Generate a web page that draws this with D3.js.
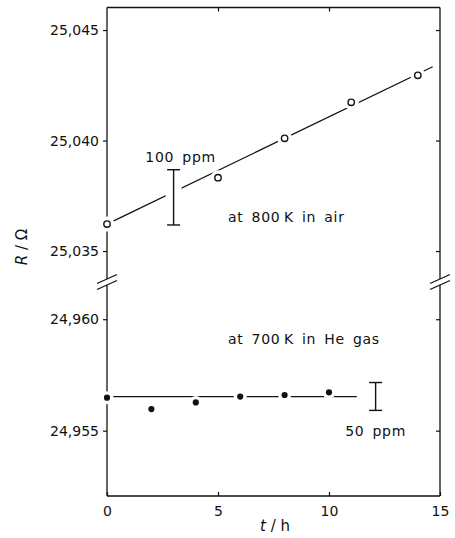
<!DOCTYPE html>
<html><head><meta charset="utf-8">
<script src="https://cdn.jsdelivr.net/npm/d3@7"></script>
<style>
html,body{margin:0;padding:0;background:#fff;}
text{font-family:"DejaVu Sans",sans-serif;fill:#111;}
</style></head>
<body><svg id="c" width="455" height="538"></svg>
<script>
// ---- data ----
const airT = [0, 5, 8, 11, 14];
const airR = [25.03622, 25.03832, 25.04010, 25.04173, 25.04295];
const heT = [0, 2, 4, 6, 8, 10];
const heR = [24.95648, 24.95597, 24.95627, 24.95653, 24.95660, 24.95672];
const airFitT = [0, 14.67];
const airFitR = [25.03622, 25.04334];
const heFitT = [0, 11.25];
const heFitR = [24.95653, 24.95653];
const airBar = {t: 3.0, lo: 25.03618, hi: 25.03868, label: "100 ppm"};
const heBar = {t: 12.1, lo: 24.95591, hi: 24.95716, label: "50 ppm"};
const xTicks = [0, 5, 10, 15];
const yTopTicks = [25.035, 25.040, 25.045];
const yBotTicks = [24.955, 24.960];
const xDomain = [0, 15];
const yTopDomain = [25.0336, 25.04602];
const yBotDomain = [24.95207, 24.96167];

// ---- layout ----
const L = 107, R = 440, T = 7.5, B = 496, BRK = 282;
const svg = d3.select("#c");
const x = d3.scaleLinear().domain(xDomain).range([L, R]);
const yTop = d3.scaleLinear().domain(yTopDomain).range([BRK, T]);
const yBot = d3.scaleLinear().domain(yBotDomain).range([B, BRK]);
const loc = d3.formatLocale({decimal: ",", thousands: ".", grouping: [3], currency: ["", ""]});
const fmt = loc.format(".3f");

const frame = svg.append("g").attr("stroke", "#111").attr("stroke-width", 1.3).attr("fill", "none");
frame.append("line").attr("x1", L).attr("x2", R).attr("y1", T).attr("y2", T);
frame.append("line").attr("x1", L).attr("x2", R).attr("y1", B).attr("y2", B);
[L, R].forEach(xx => {
  frame.append("line").attr("x1", xx).attr("x2", xx).attr("y1", T).attr("y2", BRK - 3);
  frame.append("line").attr("x1", xx).attr("x2", xx).attr("y1", BRK + 3).attr("y2", B);
  [-3, 3].forEach(dy => {
    frame.append("line").attr("x1", xx - 10).attr("y1", BRK + dy + 4.5)
      .attr("x2", xx + 10).attr("y2", BRK + dy - 4.5);
  });
});

function styleAxis(g) {
  g.select(".domain").remove();
  g.selectAll(".tick line").attr("stroke", "#111").attr("stroke-width", 1.2);
  g.selectAll("text").style("font-family", "DejaVu Sans").style("font-size", "14px").attr("fill", "#111");
}
svg.append("g").attr("transform", `translate(${L},0)`)
  .call(d3.axisLeft(yTop).tickValues(yTopTicks).tickFormat(fmt).tickSize(4).tickPadding(4)).call(styleAxis);
svg.append("g").attr("transform", `translate(${L},0)`)
  .call(d3.axisLeft(yBot).tickValues(yBotTicks).tickFormat(fmt).tickSize(4).tickPadding(4)).call(styleAxis);
svg.append("g").attr("transform", `translate(${R},0)`)
  .call(d3.axisRight(yTop).tickValues(yTopTicks).tickFormat("").tickSize(-4)).call(styleAxis);
svg.append("g").attr("transform", `translate(${R},0)`)
  .call(d3.axisRight(yBot).tickValues(yBotTicks).tickFormat("").tickSize(-4)).call(styleAxis);
const bx = svg.append("g").attr("transform", `translate(0,${B})`)
  .call(d3.axisBottom(x).tickValues(xTicks).tickFormat(d3.format("d")).tickSize(-4).tickPadding(10)).call(styleAxis);
bx.selectAll("text").attr("dy", "0.71em");
svg.append("g").attr("transform", `translate(0,${T})`)
  .call(d3.axisTop(x).tickValues(xTicks.slice(1, 3)).tickFormat("").tickSize(-4)).call(styleAxis);

// fit lines
const line = (ys) => d3.line().x(d => x(d[0])).y(d => ys(d[1]));
svg.append("path").datum(airFitT.map((t, i) => [t, airFitR[i]]))
  .attr("d", line(yTop)).attr("stroke", "#111").attr("stroke-width", 1.3).attr("fill", "none");
svg.append("path").datum(heFitT.map((t, i) => [t, heFitR[i]]))
  .attr("d", line(yBot)).attr("stroke", "#111").attr("stroke-width", 1.3).attr("fill", "none");

// halos
svg.append("g").selectAll("circle").data(airT.map((t, i) => [t, airR[i]])).join("circle")
  .attr("cx", d => x(d[0])).attr("cy", d => yTop(d[1])).attr("r", 7.5).attr("fill", "#fff");
svg.append("g").selectAll("circle").data(heT.map((t, i) => [t, heR[i]])).join("circle")
  .attr("cx", d => x(d[0])).attr("cy", d => yBot(d[1])).attr("r", 6.5).attr("fill", "#fff");
[[airBar, yTop], [heBar, yBot]].forEach(([b, ys]) => {
  svg.append("rect").attr("x", x(b.t) - 8).attr("width", 16)
    .attr("y", ys(b.hi)).attr("height", ys(b.lo) - ys(b.hi)).attr("fill", "#fff");
});

// markers
svg.append("g").selectAll("circle").data(airT.map((t, i) => [t, airR[i]])).join("circle")
  .attr("cx", d => x(d[0])).attr("cy", d => yTop(d[1])).attr("r", 3.2)
  .attr("fill", "#fff").attr("stroke", "#111").attr("stroke-width", 1.4);
svg.append("g").selectAll("circle").data(heT.map((t, i) => [t, heR[i]])).join("circle")
  .attr("cx", d => x(d[0])).attr("cy", d => yBot(d[1])).attr("r", 3.1).attr("fill", "#111");

// error bars
[[airBar, yTop], [heBar, yBot]].forEach(([b, ys]) => {
  const g = svg.append("g").attr("stroke", "#111").attr("stroke-width", 1.4);
  const cx = x(b.t);
  g.append("line").attr("x1", cx).attr("x2", cx).attr("y1", ys(b.hi)).attr("y2", ys(b.lo));
  g.append("line").attr("x1", cx - 6.5).attr("x2", cx + 6.5).attr("y1", ys(b.hi)).attr("y2", ys(b.hi));
  g.append("line").attr("x1", cx - 6.5).attr("x2", cx + 6.5).attr("y1", ys(b.lo)).attr("y2", ys(b.lo));
});

// annotations
const ann = (tx, ty, s, anchor) => svg.append("text").attr("x", tx).attr("y", ty)
  .attr("text-anchor", anchor || "start").style("font-size", "14px")
  .style("letter-spacing", "0.7px").style("word-spacing", "3px").text(s);
ann(x(airBar.t) + 7, yTop(airBar.hi) - 8, airBar.label, "middle");
ann(x(heBar.t), yBot(heBar.lo) + 26, heBar.label, "middle");
ann(228, 222, "at 800\u2009K in air");
ann(228, 344, "at 700\u2009K in He gas");

// axis titles
const yl = svg.append("text").attr("transform", "translate(27,247) rotate(-90)")
  .attr("text-anchor", "middle").style("font-size", "15px");
yl.append("tspan").style("font-style", "italic").text("R");
yl.append("tspan").text(" / Ω");
const xl = svg.append("text").attr("x", 275).attr("y", 531).attr("text-anchor", "middle").style("font-size", "15px");
xl.append("tspan").style("font-style", "italic").text("t");
xl.append("tspan").text(" / h");
</script></body></html>
